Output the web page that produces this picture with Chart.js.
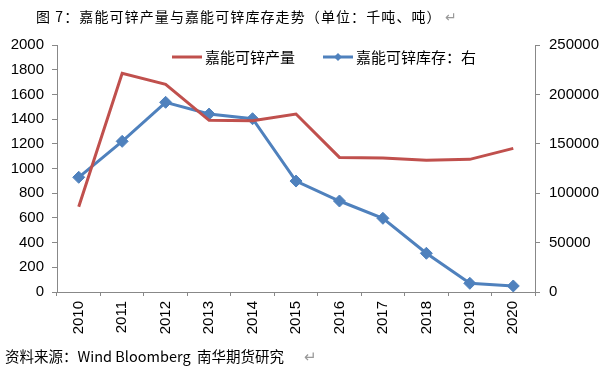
<!DOCTYPE html>
<html>
<head>
<meta charset="utf-8">
<script src="https://cdn.jsdelivr.net/npm/chart.js@4.4.0/dist/chart.umd.min.js"></script>
<style>
  body { margin: 0; background: #fff; }
  #wrap { position: relative; width: 612px; height: 371px; overflow: hidden; }
  #chart { position: absolute; left: 0; top: 0; }
  .note { position: absolute; font-family: "Noto Sans CJK SC", sans-serif; color: #000; white-space: pre; text-spacing-trim: space-all; }
  .ret { color: #999; }
</style>
</head>
<body>
<div id="wrap">
  <canvas id="chart" width="612" height="371"></canvas>
  <div class="note" style="left:36px; top:6px; font-size:14px; letter-spacing:1.1px;">图 7：嘉能可锌产量与嘉能可锌库存走势（单位：千吨、吨）<span class="ret" style="margin-left:3px;">↵</span></div>
  <div class="note" style="left:5px; top:345px; font-size:14.5px;">资料来源：Wind Bloomberg  南华期货研究      <span class="ret">↵</span></div>
</div>
<script>
// data
const years = ['2010', '2011', '2012', '2013', '2014', '2015', '2016', '2017', '2018', '2019', '2020'];
const output = [690, 1770, 1682, 1390, 1387, 1441, 1090, 1085, 1066, 1074, 1163];
const stock = [116100, 152500, 192000, 180100, 175400, 112300, 92100, 74600, 39200, 8800, 6100];
const seriesNames = ['嘉能可锌产量', '嘉能可锌库存：右'];

const red = '#C0504D';
const blue = '#4F81BD';
const axisGray = '#888888';
const tickFont = { family: 'Liberation Sans, Arial, sans-serif', size: 15 };

// legend drawn by hand to sit inside the plot area
const legendPlugin = {
  id: 'legendInside',
  afterDraw(chart) {
    const c = chart.ctx;
    c.save();
    c.font = '15px "Noto Sans CJK SC", sans-serif';
    c.textBaseline = 'middle';
    c.fillStyle = '#000';
    const y = 57;
    // red
    c.strokeStyle = red; c.lineWidth = 3;
    c.beginPath(); c.moveTo(172, y); c.lineTo(202, y); c.stroke();
    c.fillText(chart.data.datasets[0].label, 205, y);
    // blue
    c.strokeStyle = blue;
    c.beginPath(); c.moveTo(323, y); c.lineTo(353, y); c.stroke();
    c.fillStyle = blue;
    c.beginPath();
    c.moveTo(338, y - 4); c.lineTo(342, y); c.lineTo(338, y + 4); c.lineTo(334, y);
    c.closePath(); c.fill();
    c.fillStyle = '#000';
    c.fillText(chart.data.datasets[1].label, 356, y);
    c.restore();
  }
};

new Chart(document.getElementById('chart'), {
  type: 'line',
  data: {
    labels: years,
    datasets: [
      {
        label: seriesNames[0],
        data: output,
        borderColor: red,
        borderWidth: 3,
        pointRadius: 0,
        tension: 0,
        yAxisID: 'y'
      },
      {
        label: seriesNames[1],
        data: stock,
        borderColor: blue,
        backgroundColor: blue,
        borderWidth: 3,
        pointStyle: 'rectRot',
        pointRadius: 6,
        pointBorderWidth: 1,
        tension: 0,
        yAxisID: 'y1'
      }
    ]
  },
  options: {
    responsive: false,
    animation: false,
    layout: { padding: { top: 45, left: 0, right: 0, bottom: 0 } },
    plugins: {
      legend: { display: false },
      tooltip: { enabled: false }
    },
    scales: {
      x: {
        offset: true,
        grid: { offset: true, drawOnChartArea: false, drawTicks: true, tickLength: 4, color: axisGray },
        border: { color: axisGray, width: 1 },
        ticks: { minRotation: 90, maxRotation: 90, color: '#000', font: tickFont, padding: 5 },
        afterFit(scale) { scale.height = 79; }
      },
      y: {
        position: 'left',
        min: 0, max: 2000,
        grid: { drawOnChartArea: false, tickLength: 5, color: axisGray },
        border: { color: axisGray, width: 1 },
        ticks: { stepSize: 200, color: '#000', font: tickFont, padding: 8, callback: v => String(v) },
        afterFit(scale) { scale.width = 57; }
      },
      y1: {
        position: 'right',
        min: 0, max: 250000,
        grid: { drawOnChartArea: false, tickLength: 5, color: axisGray },
        border: { color: axisGray, width: 1 },
        ticks: { stepSize: 50000, color: '#000', font: tickFont, padding: 9, callback: v => String(v) },
        afterFit(scale) { scale.width = 77; }
      }
    }
  },
  plugins: [legendPlugin]
});
</script>
</body>
</html>
